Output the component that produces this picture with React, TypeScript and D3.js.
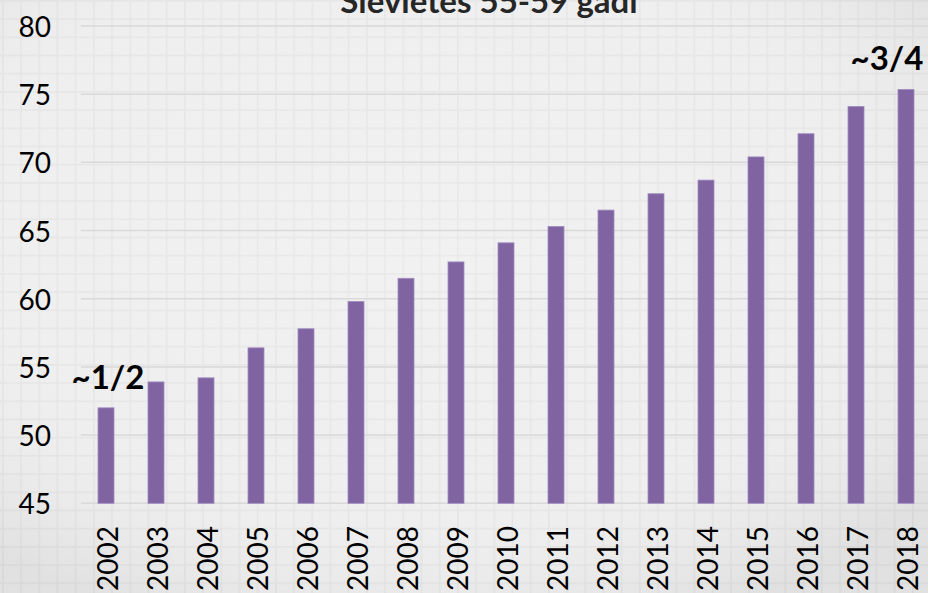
import React, { useEffect, useRef } from "react";
import * as d3 from "d3";

const years: string[] = ["2002","2003","2004","2005","2006","2007","2008","2009","2010","2011","2012","2013","2014","2015","2016","2017","2018"];
const values: number[] = [52.0, 53.9, 54.2, 56.4, 57.8, 59.8, 61.5, 62.7, 64.1, 65.3, 66.5, 67.7, 68.7, 70.4, 72.1, 74.1, 75.35];
const yTicks: number[] = [45, 50, 55, 60, 65, 70, 75, 80];
const title = "Sievietes 55-59 gadi";
const annotations: { year: string; label: string; dx: number }[] = [
  { year: "2002", label: "~1/2", dx: 2 },
  { year: "2018", label: "~3/4", dx: -19 },
];

const W = 928;
const H = 593;
const FONT = "Lato, 'Open Sans', sans-serif";

export default function App() {
  const ref = useRef<SVGSVGElement | null>(null);

  useEffect(() => {
    document.body.style.margin = "0";
    const svg = d3.select(ref.current);
    svg.selectAll("*").remove();

    const defs = svg.append("defs");
    const pat = defs.append("pattern")
      .attr("id", "grid").attr("width", 18.2).attr("height", 18.2)
      .attr("patternUnits", "userSpaceOnUse").attr("x", 2).attr("y", 0);
    pat.append("rect").attr("width", 18.2).attr("height", 18.2).attr("fill", "#efefef");
    pat.append("rect").attr("x", 0).attr("y", 0).attr("width", 1.6).attr("height", 18.2).attr("fill", "#e6e6e6");
    pat.append("rect").attr("x", 0).attr("y", 0).attr("width", 18.2).attr("height", 1.6).attr("fill", "#e6e6e6");

    const rg = defs.append("radialGradient").attr("id", "vig")
      .attr("cx", "45%").attr("cy", "40%").attr("r", "70%");
    rg.append("stop").attr("offset", "0%").attr("stop-color", "#ffffff").attr("stop-opacity", 0.15);
    rg.append("stop").attr("offset", "60%").attr("stop-color", "#ffffff").attr("stop-opacity", 0);
    rg.append("stop").attr("offset", "100%").attr("stop-color", "#000000").attr("stop-opacity", 0.06);

    svg.append("rect").attr("width", W).attr("height", H).attr("fill", "url(#grid)");
    svg.append("rect").attr("width", W).attr("height", H).attr("fill", "url(#vig)");

    const x = d3.scaleBand<string>().domain(years).range([81, 931]).paddingInner(0.68).paddingOuter(0.34);
    const y = d3.scaleLinear().domain([45, 80]).range([503.3, 26]);

    // gridlines
    svg.append("g").selectAll("line").data(yTicks).join("line")
      .attr("x1", 81).attr("x2", W)
      .attr("y1", (d) => y(d)).attr("y2", (d) => y(d))
      .attr("stroke", "#d9d9d9").attr("stroke-width", 1.5);

    // y tick labels
    svg.append("g").selectAll("text").data(yTicks).join("text")
      .attr("x", 51).attr("y", (d) => y(d))
      .attr("text-anchor", "end").attr("dominant-baseline", "central")
      .attr("font-family", FONT).attr("font-size", 28).attr("fill", "#000")
      .text((d) => String(d));

    // bars
    svg.append("g").selectAll("rect").data(years).join("rect")
      .attr("x", (d) => x(d)!)
      .attr("width", x.bandwidth())
      .attr("y", (d, i) => y(values[i]))
      .attr("height", (d, i) => y(45) - y(values[i]))
      .attr("fill", "#8064a2")
      .attr("stroke", "#a08cc0").attr("stroke-width", 0.8);

    // x labels
    svg.append("g").selectAll("text").data(years).join("text")
      .attr("transform", (d) => `translate(${x(d)! + x.bandwidth() / 2 + 0.5},526) rotate(-90)`)
      .attr("text-anchor", "end").attr("dominant-baseline", "central")
      .attr("font-family", FONT).attr("font-size", 28).attr("fill", "#000")
      .text((d) => d);

    // annotations
    svg.append("g").selectAll("text").data(annotations).join("text")
      .attr("x", (d) => x(d.year)! + x.bandwidth() / 2 + d.dx)
      .attr("y", (d) => y(values[years.indexOf(d.year)]) - 19)
      .attr("text-anchor", "middle")
      .attr("font-family", FONT).attr("font-weight", "bold").attr("font-size", 33).attr("fill", "#000")
      .text((d) => d.label);

    // title
    svg.append("text")
      .attr("x", 489).attr("y", 13)
      .attr("text-anchor", "middle")
      .attr("font-family", FONT).attr("font-weight", "bold").attr("font-size", 33).attr("fill", "#262626")
      .text(title);
  }, []);

  return (
    <svg ref={ref} width={W} height={H} style={{ position: "absolute", left: 0, top: 0, display: "block" }} />
  );
}
